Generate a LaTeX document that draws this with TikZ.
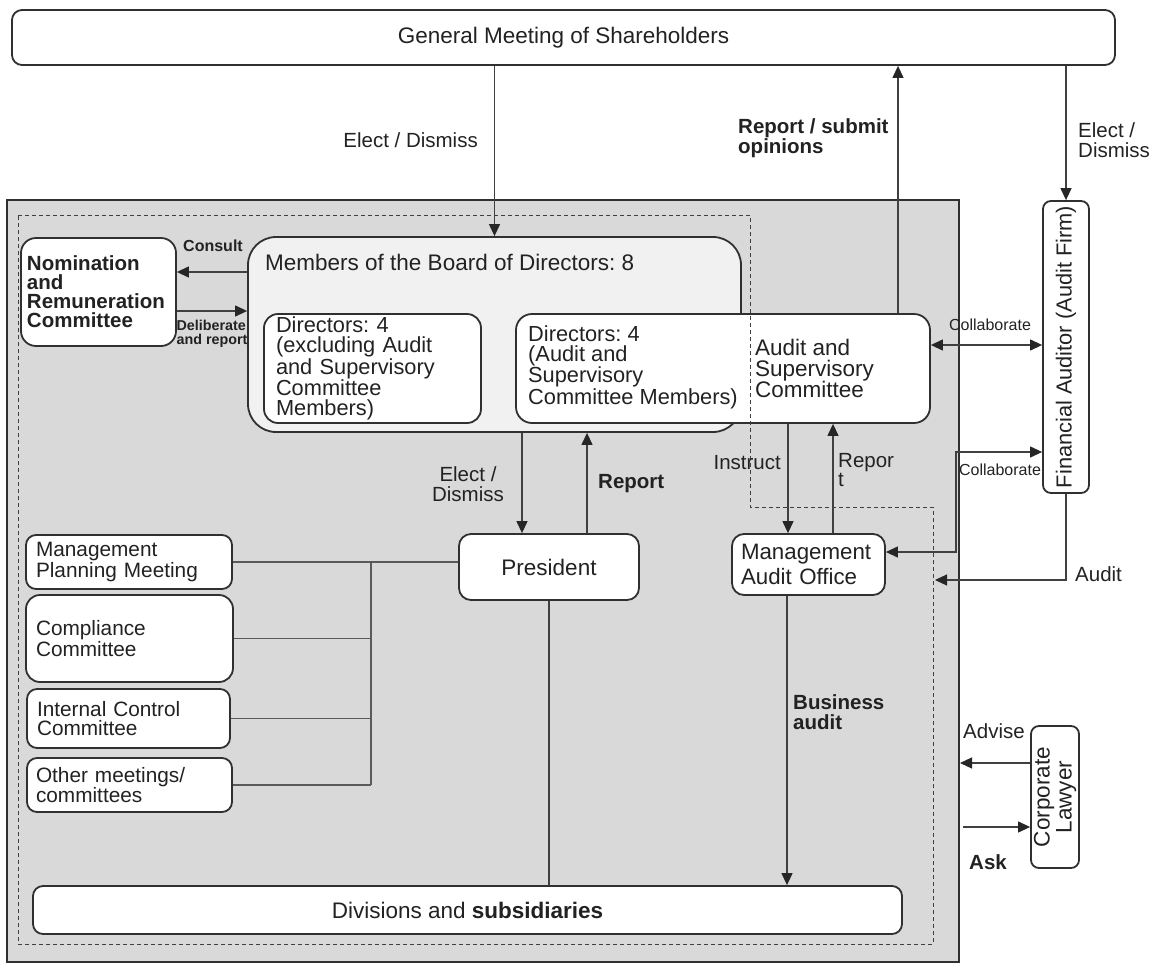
\documentclass[tikz,border=0pt]{standalone}
\usepackage{fontspec}
\setmainfont{Liberation Sans}
\usetikzlibrary{arrows.meta}
\frenchspacing
\definecolor{boxc}{HTML}{303030}
\definecolor{linec}{HTML}{404040}
\definecolor{lightlinec}{HTML}{5A5A5A}
\definecolor{txtc}{HTML}{222222}
\definecolor{grayf}{HTML}{D9D9D9}
\definecolor{boardf}{HTML}{F1F1F1}
\begin{document}
\begin{tikzpicture}[x=1pt,y=-1pt,
  box/.style={draw=boxc,line width=1.8pt,fill=white,rounded corners=10pt,inner sep=0pt,text=txtc},
  conn/.style={draw=linec,line width=1.2pt},
  lconn/.style={draw=lightlinec,line width=1.2pt},
  arr/.style={conn,-{Triangle[length=12pt,width=11pt,color=black!85]}},
  arrb/.style={conn,{Triangle[length=12pt,width=11pt,color=black!85]}-{Triangle[length=12pt,width=11pt,color=black!85]}},
  lbl/.style={inner sep=0pt,text=txtc,font=\fontsize{20.5pt}{19.5pt}\selectfont},
  blbl/.style={inner sep=0pt,text=txtc,font=\bfseries\fontsize{20.5pt}{19.5pt}\selectfont},
  dashline/.style={draw=linec,line width=1pt,dash pattern=on 4pt off 3pt},
  big/.style={font=\fontsize{22.5pt}{24pt}\selectfont},
  mid/.style={font=\fontsize{21.8pt}{20.3pt}\selectfont},
  small/.style={font=\fontsize{20.8pt}{19pt}\selectfont}
]
\useasboundingbox (0,0) rectangle (1157,964);

% company area
\node[draw=boxc,line width=2pt,fill=grayf,minimum width=952pt,minimum height=762pt,inner sep=0pt] (company) at (483,581) {};

% top box
\node[box,big,minimum width=1103pt,minimum height=55pt] (gms) at (563.5,37.5) {General Meeting of Shareholders};

% nomination
\node[box,rounded corners=15pt,minimum width=155pt,minimum height=108pt,text width=143pt,align=left,
      font=\bfseries\fontsize{20.5pt}{19pt}\selectfont] (nom) at (98.5,292) {Nomination\\and\\Remuneration\\Committee};

% board
\node[box,fill=boardf,rounded corners=28pt,minimum width=493pt,minimum height=195pt] (board) at (494.5,334.5) {};
\node[anchor=west,inner sep=0pt,text=txtc,big] (boardtitle) at (265,262) {Members of the Board of Directors: 8};
\node[box,rounded corners=14pt,mid,minimum width=217pt,minimum height=109pt,text width=193pt,align=left] (dirx) at (372.5,368.5)
  {Directors: 4\\(excluding Audit\\and Supervisory\\Committee\\Members)};
\node[box,rounded corners=16pt,minimum width=414pt,minimum height=109pt] (asc) at (723,368.5) {};
\node[anchor=west,inner sep=0pt,text=txtc,align=left,mid] (ascdir) at (528,367)
  {Directors: 4\\(Audit and\\Supervisory\\Committee Members)};
\node[anchor=west,inner sep=0pt,text=txtc,align=left,font=\fontsize{22.5pt}{21pt}\selectfont] (ascname) at (755,368)
  {Audit and\\Supervisory\\Committee};

% financial auditor
\node[box,rounded corners=8pt,minimum width=46pt,minimum height=292pt] (fa) at (1066,347) {};
\node[rotate=90,inner sep=0pt,text=txtc,font=\fontsize{21.8pt}{22pt}\selectfont] (fatext) at (fa.center) {Financial Auditor (Audit Firm)};

% president, audit office
\node[box,rounded corners=12pt,big,minimum width=180pt,minimum height=66pt] (pres) at (549,567) {President};
\node[box,rounded corners=12pt,minimum width=153pt,minimum height=61pt,text width=135pt,align=left,
      font=\fontsize{22.3pt}{25pt}\selectfont] (mao) at (808.5,564.5) {Management\\Audit Office};

% left committees
\node[box,small,minimum width=206pt,minimum height=54pt,text width=186pt,align=left] (mpm) at (129,562) {Management\\Planning Meeting};
\node[box,small,rounded corners=14pt,minimum width=207pt,minimum height=87pt,text width=187pt,align=left] (comp) at (129.5,638.5) {Compliance\\Committee};
\node[box,small,minimum width=203pt,minimum height=59pt,text width=183pt,align=left] (icc) at (128.5,718.5) {Internal Control\\Committee};
\node[box,small,minimum width=205pt,minimum height=54pt,text width=187pt,align=left] (oth) at (129.5,785) {Other meetings/\\committees};

% divisions
\node[box,big,minimum width=869pt,minimum height=48pt] (div) at (467.5,910) {Divisions and \textbf{subsidiaries}};

% lawyer
\node[box,rounded corners=8pt,minimum width=48pt,minimum height=142pt] (lawyer) at (1055,797) {};
\node[rotate=90,align=center,inner sep=0pt,text=txtc,font=\fontsize{22.5pt}{22pt}\selectfont] (lawtext) at (lawyer.center) {Corporate\\Lawyer};

% dashed boundary
\draw[dashline] (18,215) -- (750,215) -- (750,507) -- (933,507) -- (933,944) -- (18,944) -- cycle;

% helper coordinates
\coordinate (xrs) at (898,0);
\coordinate (xed) at (522,0);
\coordinate (xrp) at (587,0);
\coordinate (xin) at (788,0);
\coordinate (xre) at (833,0);
\coordinate (xba) at (787,0);
\coordinate (bus) at (371,0);
\coordinate (ycon) at (0,272);
\coordinate (ydel) at (0,311);
\coordinate (ycol) at (0,345);
\coordinate (c2) at (956,452);
\coordinate (c2b) at (956,552);
\coordinate (au) at (935,580);
\coordinate (yadv) at (0,763);
\coordinate (askstart) at (963,827);

% connectors
\draw[arr] (gms.south -| board.north) -- (board.north);
\draw[arr] (asc.north -| xrs) -- (gms.south -| xrs);
\draw[arr] (gms.south -| fa.north) -- (fa.north);
\draw[arr] (board.west |- ycon) -- (nom.east |- ycon);
\draw[arr] (nom.east |- ydel) -- (board.west |- ydel);
\draw[arrb] (asc.east |- ycol) -- (fa.west |- ycol);
\draw[arrb] (fa.west |- c2) -- (c2) -- (c2b) -- (mao.east |- c2b);
\draw[arr] (fa.south) -- (fa.south |- au) -- (au);
\draw[arr] (board.south -| xed) -- (pres.north -| xed);
\draw[arr] (pres.north -| xrp) -- (board.south -| xrp);
\draw[arr] (asc.south -| xin) -- (mao.north -| xin);
\draw[arr] (mao.north -| xre) -- (asc.south -| xre);
\draw[arr] (mao.south -| xba) -- (div.north -| xba);
\draw[conn] (pres.south) -- (div.north -| pres.south);
\draw[lconn] (mpm.east) -- (pres.west |- mpm.east);
\draw[lconn] (mpm.east -| bus) -- (oth.east -| bus);
\draw[lconn] (comp.east) -- (comp.east -| bus);
\draw[lconn] (icc.east) -- (icc.east -| bus);
\draw[lconn] (oth.east) -- (oth.east -| bus);
\draw[arr] (lawyer.west |- yadv) -- (company.east |- yadv);
\draw[arr] (askstart) -- (lawyer.west |- askstart);

% labels
\node[lbl,anchor=east] (lelect) at (478,140) {Elect / Dismiss};
\node[blbl,anchor=west,align=left] (lrep) at (738,138) {Report / submit\\opinions};
\node[lbl,anchor=west,align=left] (lelect2) at (1078,140) {Elect /\\Dismiss};
\node[inner sep=0pt,text=txtc,font=\bfseries\fontsize{16pt}{16pt}\selectfont] (lcons) at (213,246) {Consult};
\node[inner sep=0pt,text=txtc,align=left,font=\bfseries\fontsize{14.3pt}{14pt}\selectfont] (ldel) at (212,334) {Deliberate\\and report};
\node[inner sep=0pt,text=txtc,font=\fontsize{16pt}{16pt}\selectfont] (lcol1) at (990,325) {Collaborate};
\node[inner sep=0pt,text=txtc,font=\fontsize{16pt}{16pt}\selectfont] (lcol2) at (1000,470) {Collaborate};
\node[lbl,anchor=west] (laud) at (1075,574) {Audit};
\node[lbl,align=center] (lelect3) at (468,484) {Elect /\\Dismiss};
\node[blbl,anchor=west] (lreport) at (598,484) {Report};
\node[lbl,anchor=east] (linst) at (781,463) {Instruct};
\node[lbl,anchor=west,align=left] (lrept) at (838,470) {Repor\\t};
\node[blbl,anchor=west,align=left] (lbus) at (793,712) {Business\\audit};
\node[lbl,anchor=west] (ladv) at (963,731) {Advise};
\node[blbl,anchor=west] (lask) at (969,862) {Ask};
\end{tikzpicture}
\end{document}
